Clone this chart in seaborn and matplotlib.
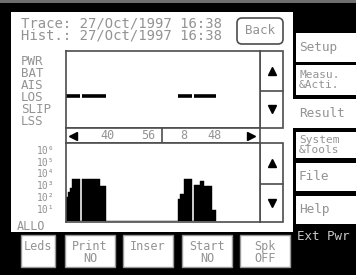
import numpy as np
import pandas as pd
import matplotlib
matplotlib.use('agg')
import matplotlib.pyplot as plt
from matplotlib.patches import Rectangle, FancyBboxPatch
import seaborn as sns

sns.set_style('white')
plt.rcParams['font.family'] = ['DejaVu Sans Mono', 'DejaVu Sans']

# ---- data ----
trace_time = '27/Oct/1997 16:38'
hist_time = '27/Oct/1997 16:38'

alarm_rows = ['PWR', 'BAT', 'AIS', 'LOS', 'SLIP', 'LSS']
active_alarm = 'LOS'

# histogram bins (time slots) and log10 of the error count in each slot
hist_bins = [0, 1, 2, 3, 4, 5, 6, 8, 9, 10, 11, 12, 13, 14, 15, 16, 17, 18, 19,
             56, 57, 58, 59, 60, 61, 62, 64, 65, 66, 67, 68, 69, 70, 71, 72, 73, 74]
hist_log = [2.0, 2.4, 2.8, 3.55, 3.55, 3.55, 3.55, 3.55, 3.55, 3.55, 3.55, 3.55,
            3.55, 3.55, 3.55, 3.55, 2.9, 2.9, 2.9,
            1.8, 2.3, 2.3, 3.55, 3.55, 3.55, 3.55, 3.0, 3.0, 3.0, 3.4, 3.4,
            2.9, 2.9, 2.9, 2.9, 0.95, 0.95]
n_bins = 97

decades = [1, 2, 3, 4, 5, 6]
decade_labels = ['10¹', '10²', '10³', '10⁴', '10⁵', '10⁶']

time_tick_bins = [20.25, 40.5, 58.25, 74]
time_tick_labels = ['40', '56', '8', '48']
hour_break = 47.35

side_buttons = ['Setup', 'Measu.\n&Acti.', 'Result', 'System\n&Tools', 'File', 'Help']
bottom_buttons = ['Leds', 'Print\nNO', 'Inser', 'Start\nNO', 'Spk\nOFF']

# ---- styling ----
W, H = 356, 275
TXT = '#939393'
EDGE = '#4d4d4d'

fig = plt.figure(figsize=(W / 100, H / 100), dpi=100, facecolor='black')
ui = fig.add_axes([0, 0, 1, 1])
ui.set_xlim(0, W)
ui.set_ylim(H, 0)
ui.axis('off')
ui.set_facecolor('black')


def px_axes(x0, y0, x1, y1):
    return fig.add_axes([x0 / W, 1 - y1 / H, (x1 - x0) / W, (y1 - y0) / H])


# screen chrome
ui.add_patch(Rectangle((0, 0), W, 3, fc='#6e6e6e', ec='none'))
ui.add_patch(Rectangle((11, 12), 282, 220, fc='white', ec='none'))

ui.text(21, 29.5, 'Trace: ' + trace_time + '\nHist.: ' + hist_time,
        fontsize=10, color=TXT, va='center', linespacing=0.85)
ui.add_patch(FancyBboxPatch((237, 18), 46, 26, boxstyle='round,pad=0,rounding_size=5',
                            fc='white', ec=EDGE, lw=1.2))
ui.text(260, 31, 'Back', fontsize=9, color=TXT, ha='center', va='center')

# right menu column
side_y = [(33, 62), (65, 95), (99, 128), (132, 158), (163, 191), (196, 224)]
for label, (y0, y1) in zip(side_buttons, side_y):
    if label == 'Result':
        ui.add_patch(Rectangle((292, y0), W - 292, y1 - y0, fc='white', ec='none'))
    else:
        ui.add_patch(Rectangle((296, y0), W - 296, y1 - y0, fc='white', ec='none'))
    fs = 8 if '\n' in label else 9.2
    ui.text(299, (y0 + y1) / 2, label, fontsize=fs, color=TXT, va='center',
            linespacing=0.95)
ui.text(297, 237, 'Ext Pwr', fontsize=9, color='#c8c8c8', va='center')

# bottom soft keys
bottom_x = [(21, 55), (65, 115), (123, 173), (182, 232), (240, 290)]
for label, (x0, x1) in zip(bottom_buttons, bottom_x):
    ui.add_patch(Rectangle((x0, 235), x1 - x0, 32, fc='white', ec='#9a9a9a', lw=1))
    ui.text((x0 + x1) / 2, 240, label, fontsize=8.5, color=TXT, ha='center', va='top',
            linespacing=0.9)

ui.text(17, 227, 'ALLO', fontsize=8.5, color=TXT, va='center')

# scroll buttons
for y0, y1 in [(51, 128), (143, 222)]:
    ui.add_patch(Rectangle((260, y0), 23, y1 - y0, fc='white', ec=EDGE, lw=1.2))
    mid = (y0 + y1) / 2 + 1
    ui.plot([260, 283], [mid, mid], color=EDGE, lw=1.2)
    ui.plot(272, (y0 + mid) / 2, marker='^', color='black', ms=6)
    ui.plot(272, (mid + y1) / 2, marker='v', color='black', ms=6)

# ---- alarm trace ----
ax_tr = px_axes(66, 51, 260, 128)
row = alarm_rows.index(active_alarm)
bins = np.array(hist_bins)
ax_tr.hlines(np.full(len(bins), row), bins - 0.5, bins + 0.5, color='black', lw=2.6)
ax_tr.set_xlim(-0.5, n_bins - 0.5)
ax_tr.set_ylim(5.67, -0.75)
ax_tr.set_xticks([])
ax_tr.set_yticks(range(len(alarm_rows)))
ax_tr.set_yticklabels(alarm_rows, fontsize=9, color=TXT, ha='left')
ax_tr.tick_params(axis='y', length=0, pad=32.4)

# ---- time strip ----
ax_ts = px_axes(66, 128, 260, 143)
ax_ts.set_xlim(-0.5, n_bins - 0.5)
ax_ts.set_ylim(0, 1)
ax_ts.set_xticks([])
ax_ts.set_yticks([])
for xb, lab in zip(time_tick_bins, time_tick_labels):
    ax_ts.text(xb, 0.5, lab, fontsize=8.5, color=TXT, ha='center', va='center')
ax_ts.axvline(hour_break, color=EDGE, lw=1.2)
ax_ts.plot(3, 0.5, marker='<', color='black', ms=5.5)
ax_ts.plot(92, 0.5, marker='>', color='black', ms=5.5)

# ---- histogram ----
ax_h = px_axes(66, 143, 260, 222)
hist_df = pd.DataFrame({'bin': hist_bins, 'level': hist_log})
sns.histplot(data=hist_df, x='bin', weights='level', discrete=True, shrink=1,
             color='black', alpha=1, edgecolor='black', linewidth=0.3, ax=ax_h)
ax_h.set_xlim(-0.5, n_bins - 0.5)
ax_h.set_ylim(-0.1, 6.57)
ax_h.set_xlabel('')
ax_h.set_ylabel('')
ax_h.set_xticks([])
ax_h.set_yticks(decades)
ax_h.set_yticklabels(decade_labels, fontsize=7, color=TXT)
ax_h.tick_params(axis='y', length=0, pad=8)

for ax in (ax_tr, ax_ts, ax_h):
    ax.set_facecolor('white')
    for sp in ax.spines.values():
        sp.set_visible(True)
        sp.set_color(EDGE)
        sp.set_linewidth(1.2)

fig.savefig('out.png', dpi=100, facecolor='black')
